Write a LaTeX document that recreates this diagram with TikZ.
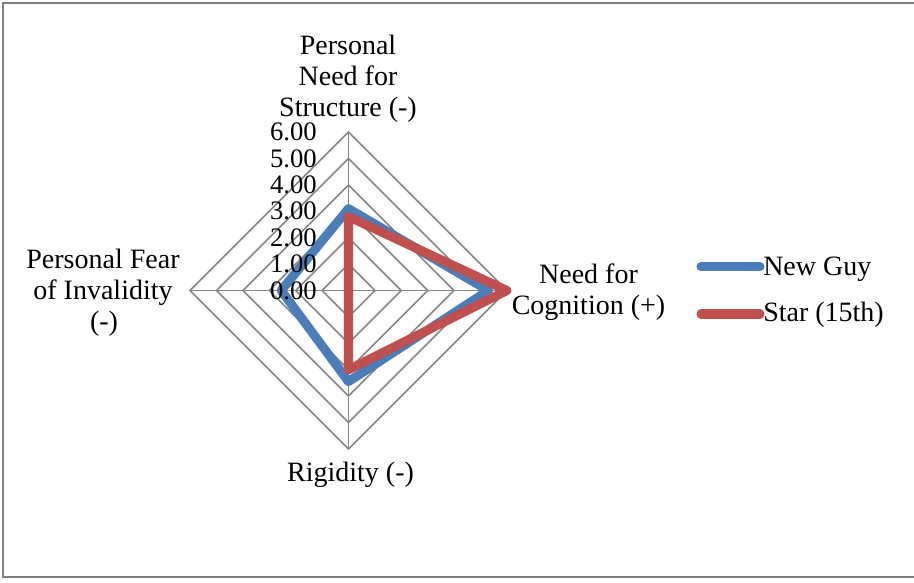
\documentclass[tikz,border=0pt]{standalone}
\usepackage{fontspec}
\setmainfont{Liberation Serif}
\definecolor{gridgray}{RGB}{134,134,134}
\definecolor{framegray}{RGB}{128,128,128}
\definecolor{seriesblue}{RGB}{74,126,187}
\definecolor{seriesred}{RGB}{192,80,77}
\begin{document}
\begin{tikzpicture}[x=0.75pt,y=-0.75pt,
  gridline/.style={draw=gridgray,line width=1.2pt},
  series/.style={line width=6.8pt,line join=round,line cap=round},
  catlabel/.style={anchor=base,inner sep=0pt,font=\fontsize{21}{23.25}\selectfont},
  ticklabel/.style={anchor=east,inner sep=0pt,font=\fontsize{20}{22}\selectfont},
  legendtext/.style={anchor=base west,inner sep=0pt,font=\fontsize{21}{23.25}\selectfont}]
\useasboundingbox (0,0) rectangle (914,582);
\fill[white] (0,0) rectangle (914,582);
% chart frame
\draw[framegray,line width=1.5pt] (917,3) -- (3,3) -- (3,577) -- (917,577);

% radar grid, one unit = 26.4 px
\begin{scope}[shift={(348.5,290.5)}]
  \foreach \k in {1,...,6}
    \draw[gridline] (0,-26.4*\k) -- (26.4*\k,0) -- (0,26.4*\k) -- (-26.4*\k,0) -- cycle;
  \draw[gridline] (0,-158.4) -- (0,158.4);
  \draw[gridline] (-158.4,0) -- (158.4,0);

  % data series: top, right, bottom, left
  \coordinate (b1) at (0,-3.1*26.4);
  \coordinate (b2) at (5.3*26.4,0);
  \coordinate (b3) at (0,3.45*26.4);
  \coordinate (b4) at (-2.55*26.4,0);
  \coordinate (r1) at (0,-2.8*26.4);
  \coordinate (r2) at (6*26.4,0);
  \coordinate (r3) at (0,3.0*26.4);
  \coordinate (r4) at (0,0);
  \draw[series,seriesblue] (b1) -- (b2) -- (b3) -- (b4) -- cycle;
  \draw[series,seriesred] (r1) -- (r2) -- (r3) -- (r4) -- cycle;

  % axis scale
  \foreach \k in {0,...,6}
    \node[ticklabel] (tick\k) at (-31.5,-26.4*\k) {\k.00};
\end{scope}

% category labels
\node[catlabel] (topA) at (348,54.3) {Personal};
\node[catlabel] (topB) at (348,85.3) {Need for};
\node[catlabel] (topC) at (348,116.7) {Structure (-)};
\node[catlabel] (leftA) at (103,268.3) {Personal Fear};
\node[catlabel] (leftB) at (103,299.3) {of Invalidity};
\node[catlabel] (leftC) at (104,330.3) {(-)};
\node[catlabel] (rightA) at (588.5,283.3) {Need for};
\node[catlabel] (rightB) at (588.5,314.8) {Cognition (+)};
\node[catlabel] (bottomA) at (350.5,481.7) {Rigidity (-)};

% legend
\coordinate (lb1) at (701,266.7);
\coordinate (lb2) at (760,266.7);
\coordinate (lr1) at (701,314);
\coordinate (lr2) at (760,314);
\draw[series,seriesblue] (lb1) -- (lb2);
\draw[series,seriesred] (lr1) -- (lr2);
\node[legendtext] (legBlue) at (763,275) {New Guy};
\node[legendtext] (legRed) at (763,321.7) {Star (15th)};
\end{tikzpicture}
\end{document}
